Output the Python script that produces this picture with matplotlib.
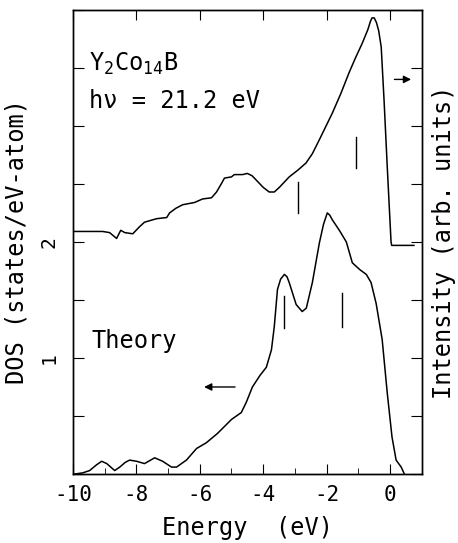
import numpy as np
import matplotlib
matplotlib.use("Agg")
import matplotlib.pyplot as plt

plt.rcParams["font.family"] = ["DejaVu Sans Mono", "DejaVu Sans"]
plt.rcParams["axes.unicode_minus"] = False

# photoemission spectrum (upper curve)
exp_e = [-10.0, -9.81, -9.06, -8.84, -8.62, -8.49, -8.36, -8.11, -7.9, -7.74, -7.36, -7.04,
         -6.95, -6.75, -6.54, -6.16, -5.91, -5.63, -5.47, -5.3, -5.22, -5.0, -4.91, -4.65, -4.5,
         -4.35, -4.21, -4.0, -3.81, -3.65, -3.49, -3.18, -2.9, -2.65, -2.45, -2.23, -1.82,
         -1.55, -1.29, -1.1, -0.88, -0.7, -0.62, -0.57, -0.5, -0.43, -0.36, -0.28, -0.19,
         -0.09, 0.03, 0.05, 0.75]
exp_i = [2.09, 2.09, 2.09, 2.08, 2.03, 2.10, 2.08, 2.07, 2.13, 2.17, 2.20, 2.21,
         2.25, 2.29, 2.32, 2.34, 2.37, 2.38, 2.43, 2.51, 2.55, 2.56, 2.58, 2.58, 2.59,
         2.57, 2.53, 2.47, 2.43, 2.43, 2.47, 2.56, 2.62, 2.68, 2.76, 2.88, 3.11,
         3.28, 3.46, 3.58, 3.71, 3.83, 3.9, 3.93, 3.93, 3.89, 3.82, 3.68, 3.22,
         2.65, 2.0, 1.97, 1.97]

# calculated DOS (lower curve)
dos_e = [-10.0, -9.94, -9.69, -9.47, -9.25, -9.09, -8.93, -8.68, -8.52, -8.35, -8.21, -7.99, -7.74,
         -7.42, -7.17, -6.89, -6.73, -6.42, -6.1, -5.79, -5.44, -5.0, -4.69, -4.53,
         -4.34, -4.1, -3.9, -3.74, -3.65, -3.55, -3.45, -3.33, -3.25, -3.18, -2.96, -2.77, -2.64,
         -2.45, -2.23, -2.1, -1.98, -1.9, -1.82, -1.6, -1.38, -1.19, -0.95, -0.75, -0.6, -0.44,
         -0.25, -0.09, 0.06, 0.19, 0.35, 0.45]
dos_v = [0.0, 0.0, 0.01, 0.03, 0.08, 0.11, 0.09, 0.03, 0.06, 0.10, 0.12, 0.11, 0.09,
         0.14, 0.11, 0.06, 0.06, 0.12, 0.22, 0.27, 0.35, 0.47, 0.53, 0.62,
         0.75, 0.85, 0.92, 1.07, 1.27, 1.59, 1.68, 1.72, 1.70, 1.65, 1.46, 1.40, 1.43,
         1.65, 1.99, 2.15, 2.25, 2.23, 2.19, 2.10, 2.00, 1.82, 1.76, 1.72, 1.65, 1.47,
         1.16, 0.70, 0.32, 0.12, 0.06, 0.0]

# vertical feature markers: (energy, bottom, top)
marks = [(-2.89, 2.25, 2.52), (-1.07, 2.64, 2.90), (-3.33, 1.26, 1.53), (-1.51, 1.27, 1.56)]

ytick_pos = [0, 0.5, 1, 1.5, 2, 2.5, 3, 3.5, 4]
ytick_lab = ["", "", "1", "", "2", "", "", "", ""]

fig = plt.figure(figsize=(4.58, 5.43), dpi=100)
ax = fig.add_axes([0.159, 0.127, 0.762, 0.855])

ax.plot(exp_e, exp_i, color="black", lw=1.1)
ax.plot(dos_e, dos_v, color="black", lw=1.1)
for e, y0, y1 in marks:
    ax.plot([e, e], [y0, y1], color="black", lw=1.0)

ax.annotate("", xy=(-5.95, 0.75), xytext=(-4.8, 0.75),
            arrowprops=dict(arrowstyle="-|>", color="black", lw=1.0,
                            mutation_scale=11))
ax.annotate("", xy=(0.75, 3.4), xytext=(0.05, 3.4),
            arrowprops=dict(arrowstyle="-|>", color="black", lw=1.0,
                            mutation_scale=11))

ax.text(-9.5, 3.53, r"Y$_\mathregular{2}$Co$_\mathregular{14}$B", fontsize=17, va="center")
ax.text(-9.5, 3.21, "hν = 21.2 eV", fontsize=17, va="center")
ax.text(-9.4, 1.15, "Theory", fontsize=17, va="center")

ax.set_xlim(-10, 1)
ax.set_ylim(0, 4)
ax.set_xticks([-10, -8, -6, -4, -2, 0])
ax.set_xticks(np.arange(-9, 1, 2), minor=True)
ax.set_yticks(ytick_pos)
ax.set_yticklabels(ytick_lab, rotation=90, va="center")
ax.tick_params(axis="x", which="major", direction="in", top=True, length=7, labelsize=15, pad=8)
ax.tick_params(axis="x", which="minor", direction="in", top=False, length=4)
ax.tick_params(axis="y", direction="in", length=8, labelsize=14, pad=10)
ax.set_xlabel("Energy  (eV)", fontsize=17, labelpad=8)
ax.set_ylabel("DOS (states/eV-atom)", fontsize=17, labelpad=8)

ax2 = ax.twinx()
ax2.set_ylim(0, 4)
ax2.set_yticks(ytick_pos)
ax2.set_yticklabels([])
ax2.tick_params(axis="y", direction="in", length=8)
ax2.set_ylabel("Intensity (arb. units)", fontsize=17, labelpad=4)

for a in (ax, ax2):
    for s in a.spines.values():
        s.set_linewidth(1.0)

fig.savefig("out.png", dpi=100)
